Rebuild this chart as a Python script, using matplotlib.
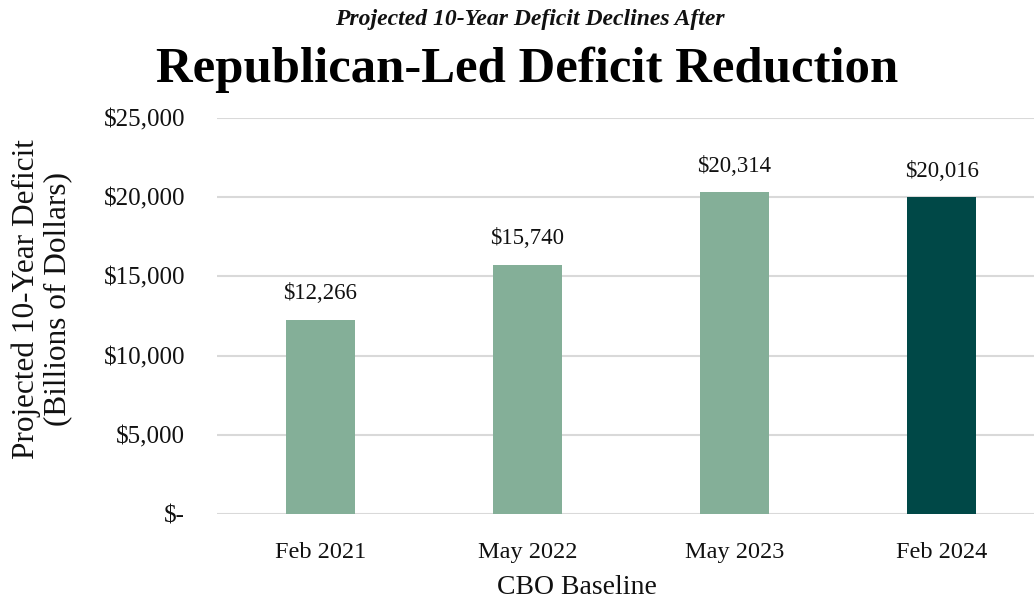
import matplotlib
matplotlib.use("Agg")
import matplotlib.pyplot as plt
from matplotlib.ticker import FuncFormatter

categories = ["Feb 2021", "May 2022", "May 2023", "Feb 2024"]
values = [12266, 15740, 20314, 20016]
bar_colors = ["#84AF98", "#84AF98", "#84AF98", "#004847"]
yticks = [0, 5000, 10000, 15000, 20000, 25000]

SERIF = ["Liberation Serif", "DejaVu Serif"]
plt.rcParams["font.family"] = SERIF

fig = plt.figure(figsize=(10.34, 6.01), dpi=100)
ax = fig.add_axes([217 / 1034, 87 / 601, 828 / 1034, 396 / 601])

x = list(range(len(categories)))
ax.bar(x, values, width=0.33, color=bar_colors, zorder=3)

ax.set_xlim(-0.5, len(categories) - 0.5)
ax.set_ylim(0, 25000)
ax.set_yticks(yticks)

def fmt(v, pos):
    if v == 0:
        return "$-"
    return "${:,.0f}".format(v)

ax.yaxis.set_major_formatter(FuncFormatter(fmt))
ax.set_xticks(x)
ax.set_xticklabels(categories)

ax.grid(axis="y", color="#D9D9D9", linewidth=1.5, zorder=0)
ax.set_axisbelow(True)
for s in ax.spines.values():
    s.set_visible(False)
ax.tick_params(axis="both", length=0, colors="#111111")
ax.tick_params(axis="y", pad=23, labelsize=18)
ax.tick_params(axis="x", pad=20, labelsize=17.5)

for xi, v in zip(x, values):
    ax.annotate("${:,.0f}".format(v), (xi, v), xytext=(0, 11), textcoords="offset points",
                ha="center", va="bottom", fontsize=16.5, color="#111111")

fig.text(577 / 1034, 1 - 588 / 601, "CBO Baseline", ha="center", va="center", fontsize=20, color="#111111")
fig.text(42 / 1034, 1 - 299 / 601, "Projected 10-Year Deficit\n(Billions of Dollars)", rotation=90,
         ha="center", va="center", fontsize=22.5, color="#111111", linespacing=1.1)

fig.text(530 / 1034, 1 - 20 / 601, "Projected 10-Year Deficit Declines After", ha="center", va="center",
         fontsize=17, fontweight="bold", fontstyle="italic", color="#111111")
fig.text(527 / 1034, 1 - 70 / 601, "Republican-Led Deficit Reduction", ha="center", va="center",
         fontsize=36.5, fontweight="bold", color="#000000")

fig.savefig("out.png", dpi=100)
